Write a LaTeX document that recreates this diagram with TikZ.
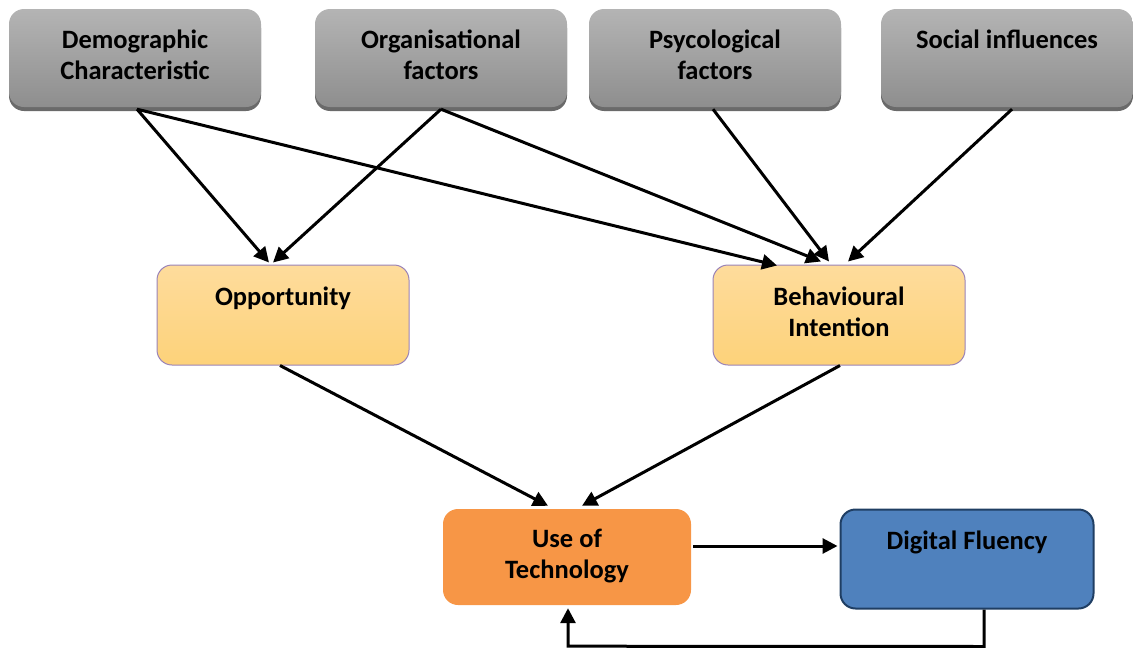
\documentclass[tikz,border=0pt]{standalone}
\usepackage{fontspec}
\setmainfont{Carlito}
\usetikzlibrary{arrows.meta,calc,shadows}
\definecolor{greytop}{HTML}{B4B4B4}
\definecolor{greybot}{HTML}{8E8E8E}
\definecolor{greyshadow}{HTML}{6A6A6A}
\definecolor{peachtop}{HTML}{FEDC9C}
\definecolor{peachbot}{HTML}{FDD27A}
\definecolor{violetline}{HTML}{9A83B8}
\definecolor{techorange}{HTML}{F79646}
\definecolor{fluencyblue}{HTML}{4F81BD}
\definecolor{fluencyline}{HTML}{1F3E63}
\tikzset{
  box/.style={rounded corners=15pt, minimum width=252pt, minimum height=100pt,
    align=center, font=\bfseries\fontsize{26.5}{31}\selectfont, inner sep=0pt,
    execute at end node={\rule[-7pt]{0pt}{1pt}}},
  factor/.style={box, top color=greytop, bottom color=greybot, minimum height=98pt,
    drop shadow={shadow xshift=0pt, shadow yshift=-4pt, fill=greyshadow, opacity=1}},
  mediator/.style={box, top color=peachtop, bottom color=peachbot, draw=violetline, line width=1pt},
  usebox/.style={box, fill=techorange, minimum width=248pt, minimum height=96pt},
  fluency/.style={box, fill=fluencyblue, draw=fluencyline, line width=2pt, minimum width=253pt, minimum height=99pt},
  arr/.style={line width=3pt, -{Triangle[length=15pt,width=15pt]}},
}
\begin{document}
\begin{tikzpicture}[x=1pt,y=-1pt]
\useasboundingbox (0,0) rectangle (1133,648);
% top row of factors
\node[factor] (demo) at (135,58) {Demographic\\Characteristic};
\node[factor] (org)  at (441,58) {Organisational\\factors};
\node[factor] (psy)  at (715,58) {Psycological\\factors};
\node[factor] (soc)  at (1007,58) {Social influences\\\phantom{X}};
% mediators
\node[mediator] (opp) at (283,315) {Opportunity\\\phantom{X}};
\node[mediator] (beh) at (839,315) {Behavioural\\Intention};
% outcomes
\node[usebox] (use) at (567,557) {Use of\\Technology};
\node[fluency] (dig) at (967,559) {Digital Fluency\\\phantom{X}};
% influences on the mediators
\draw[arr] ($(demo.south)+(2,2)$) -- ($(opp.north)+(-14,-2)$);
\draw[arr] ($(demo.south)+(2,2)$) -- ($(beh.north)+(-62,1)$);
\draw[arr] ($(org.south)+(0,2)$) -- ($(opp.north)+(-10,-2)$);
\draw[arr] ($(org.south)+(0,2)$) -- ($(beh.north)+(-18,-3)$);
\draw[arr] ($(psy.south)+(-2,2)$) -- ($(beh.north)+(-10,-3)$);
\draw[arr] ($(soc.south)+(5,2)$) -- ($(beh.north)+(9,-3)$);
% mediators to use of technology
\draw[arr] ($(opp.south)+(-3,0)$) -- ($(use.north)+(-19,-3)$);
\draw[arr] ($(beh.south)+(1,0)$) -- ($(use.north)+(15,-3)$);
% use of technology and digital fluency
\draw[arr] ($(use.east)+(2,-11)$) -- ($(dig.west)+(-2,-13)$);
\coordinate (loopR) at ($(dig.south)+(17,37)$);
\coordinate (loopL) at ($(use.south)+(1,41)$);
\draw[arr] ($(dig.south)+(17,0)$) -- (loopR) -- (loopL) -- ($(use.south)+(1,3)$);
\end{tikzpicture}
\end{document}
